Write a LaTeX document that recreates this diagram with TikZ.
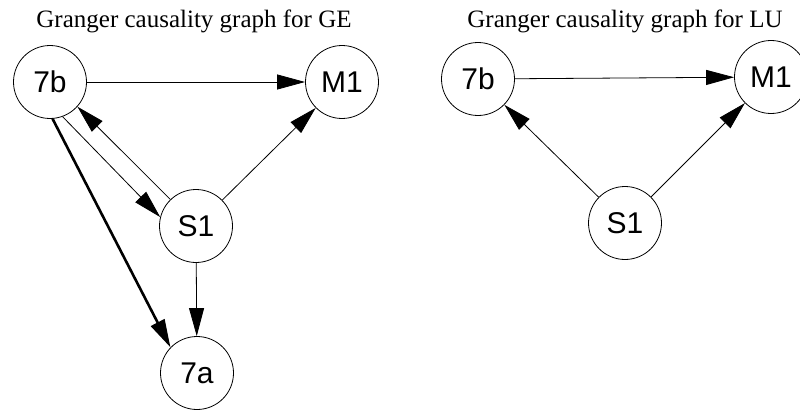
\documentclass[tikz,border=0pt]{standalone}
\usepackage{fontspec}
\setmainfont{Liberation Serif}
\newfontfamily\nodefont{Liberation Sans}
\usetikzlibrary{arrows.meta}
\begin{document}
\begin{tikzpicture}[x=1pt,y=-1pt,
  vtx/.style={draw, circle, minimum size=73pt, inner sep=0pt,
    font=\nodefont\fontsize{30}{30}\selectfont, line width=0.8pt},
  edge/.style={-{Triangle[length=28pt,width=15pt]}, line width=0.8pt},
  thickedge/.style={edge, line width=2.6pt},
  title/.style={font=\fontsize{25}{25}\selectfont}]
\useasboundingbox (0,0) rectangle (800,412);
\clip (0,0) rectangle (800,412);
% left graph
\node[title] (tge) at (194,21) {Granger causality graph for GE};
\node[vtx] (gb7) at (50,82) {7b};
\node[vtx] (gm1) at (342,82) {M1};
\node[vtx] (gs1) at (196,226) {S1};
\node[vtx] (ga7) at (197,373) {7a};
\draw[edge] (gb7) -- (gm1);
\draw[edge] (gb7.-70) -- (gs1.166);
\draw[edge] (gs1.134) -- (gb7.-42);
\draw[edge] (gs1) -- (gm1);
\draw[edge] (gs1) -- (ga7);
\draw[thickedge] (gb7.-86) -- (ga7.136);
% right graph
\node[title] (tlu) at (625,21) {Granger causality graph for LU};
\node[vtx] (lb7) at (478,79) {7b};
\node[vtx] (lm1) at (771,77) {M1};
\node[vtx] (ls1) at (625,223) {S1};
\draw[edge] (lb7) -- (lm1);
\draw[edge] (ls1) -- (lb7);
\draw[edge] (ls1) -- (lm1);
\end{tikzpicture}
\end{document}
